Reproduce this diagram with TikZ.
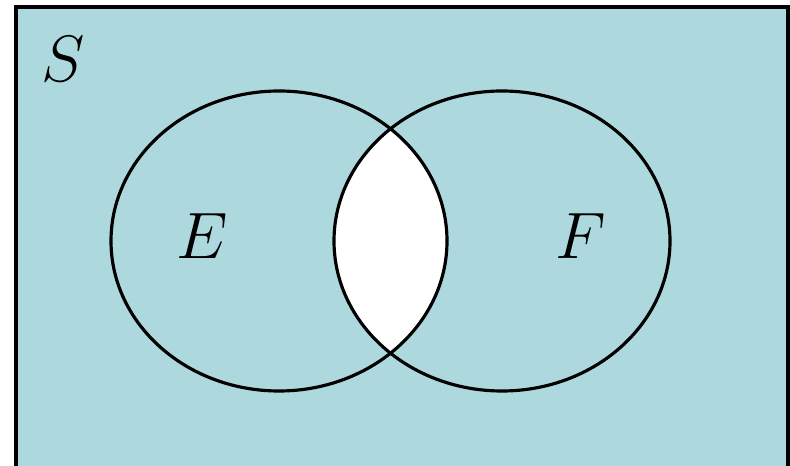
\documentclass[tikz,border=0pt]{standalone}
\definecolor{vennblue}{HTML}{ADD9DE}
\tikzset{
  setline/.style={draw=black, line width=1.8pt},
  setlabel/.style={inner sep=0pt, font=\Huge, scale=1.5}
}

\begin{document}
\begin{tikzpicture}
  \useasboundingbox (0,0) rectangle (15.8,9.3);
  \clip (0,0) rectangle (15.8,9.3);
  % sample space
  \draw[fill=vennblue, line width=1.8pt] (0.32,-1) rectangle (15.76,9.16);
  % the overlap is left white
  \begin{scope}
    \clip (5.58,4.48) ellipse [x radius=3.36, y radius=3.0];
    \fill[white] (10.04,4.48) ellipse [x radius=3.36, y radius=3.0];
  \end{scope}
  % both sets
  \draw[setline] (5.58,4.48) ellipse [x radius=3.36, y radius=3.0];
  \draw[setline] (10.04,4.48) ellipse [x radius=3.36, y radius=3.0];
  \node[setlabel] (s) at (1.26,8.12) {$S$};
  \node[setlabel] (e) at (4.04,4.58) {$E$};
  \node[setlabel] (f) at (11.62,4.58) {$F$};
\end{tikzpicture}
\end{document}
